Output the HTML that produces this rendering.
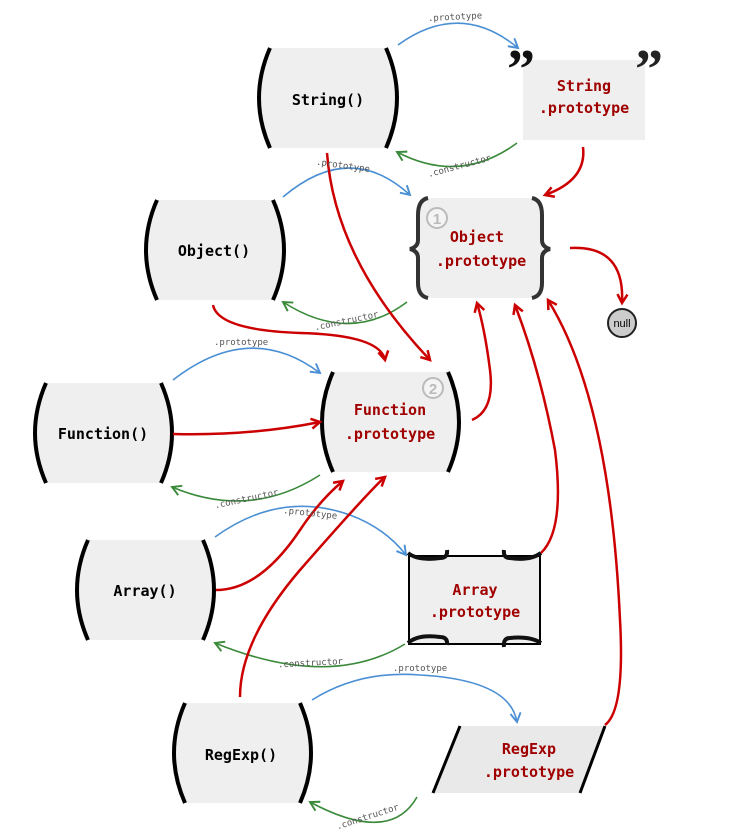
<!DOCTYPE html>
<html><head><meta charset="utf-8"><style>
html,body{margin:0;padding:0;background:#fff;}
svg{display:block;}
.ct{font-family:"DejaVu Sans Mono","Liberation Mono",monospace;font-weight:bold;font-size:15px;fill:#000;text-anchor:middle;}
.pt{font-family:"DejaVu Sans Mono","Liberation Mono",monospace;font-weight:bold;font-size:15px;fill:#a00000;text-anchor:middle;}
.lb{font-family:"DejaVu Sans Mono","Liberation Mono",monospace;font-size:9px;fill:#555;}
</style></head><body>
<svg width="730" height="840" viewBox="0 0 730 840" xmlns="http://www.w3.org/2000/svg">
<defs>
<marker id="ar" viewBox="0 0 10 10" refX="8" refY="5" markerWidth="5" markerHeight="5" orient="auto" markerUnits="strokeWidth"><path d="M1,1 L8,5 L1,9" fill="none" stroke="#cc0000" stroke-width="2"/></marker>
<marker id="ab" viewBox="0 0 10 10" refX="8" refY="5" markerWidth="8" markerHeight="8" orient="auto" markerUnits="strokeWidth"><path d="M1,1 L8,5 L1,9" fill="none" stroke="#4a8fd4" stroke-width="1.5"/></marker>
<marker id="ag" viewBox="0 0 10 10" refX="8" refY="5" markerWidth="8" markerHeight="8" orient="auto" markerUnits="strokeWidth"><path d="M1,1 L8,5 L1,9" fill="none" stroke="#3a8a3a" stroke-width="1.5"/></marker>
</defs>

<!-- paren nodes -->
<g id="nodes">
<g>
<path d="M270,48 L386,48 Q408,98 386,148 L270,148 Q248,98 270,48Z" fill="#efefef"/>
<path d="M270,48 Q248,98 270,148 M386,48 Q408,98 386,148" fill="none" stroke="#000" stroke-width="4"/>
<text class="ct" x="328" y="105">String()</text>
</g>
<g>
<path d="M157,200 L273,200 Q295,250 273,300 L157,300 Q135,250 157,200Z" fill="#efefef"/>
<path d="M157,200 Q135,250 157,300 M273,200 Q295,250 273,300" fill="none" stroke="#000" stroke-width="4"/>
<text class="ct" x="214" y="256">Object()</text>
</g>
<g>
<path d="M46,383 L161,383 Q183,433 161,483 L46,483 Q24,433 46,383Z" fill="#efefef"/>
<path d="M46,383 Q24,433 46,483 M161,383 Q183,433 161,483" fill="none" stroke="#000" stroke-width="4"/>
<text class="ct" x="103" y="439">Function()</text>
</g>
<g>
<path d="M88,540 L203,540 Q225,590 203,640 L88,640 Q66,590 88,540Z" fill="#efefef"/>
<path d="M88,540 Q66,590 88,640 M203,540 Q225,590 203,640" fill="none" stroke="#000" stroke-width="4"/>
<text class="ct" x="145" y="596">Array()</text>
</g>
<g>
<path d="M185,703 L300,703 Q322,753 300,803 L185,803 Q163,753 185,703Z" fill="#efefef"/>
<path d="M185,703 Q163,753 185,803 M300,703 Q322,753 300,803" fill="none" stroke="#000" stroke-width="4"/>
<text class="ct" x="241" y="760">RegExp()</text>
</g>
<g>
<path d="M333,372 L448,372 Q470,422 448,472 L333,472 Q311,422 333,372Z" fill="#efefef"/>
<path d="M333,372 Q311,422 333,472 M448,372 Q470,422 448,472" fill="none" stroke="#000" stroke-width="4"/>
<text class="pt" x="390" y="415">Function</text>
<text class="pt" x="390" y="439">.prototype</text>
<circle cx="433" cy="388" r="10" fill="#f4f4f4" stroke="#bbb" stroke-width="2"/>
<text x="433" y="394" font-family="Liberation Sans,sans-serif" font-size="15" font-weight="bold" fill="#bbb" text-anchor="middle">2</text>
</g>
</g>

<!-- Object.prototype braces -->
<rect x="418" y="198" width="124" height="100" rx="12" fill="#efefef"/>
<path d="M428,198 Q418,200 418,215 L418,240 Q418,247 410,249 Q418,251 418,258 L418,283 Q418,296 428,298" fill="none" stroke="#333" stroke-width="4"/>
<path d="M532,198 Q542,200 542,215 L542,240 Q542,247 550,249 Q542,251 542,258 L542,283 Q542,296 532,298" fill="none" stroke="#333" stroke-width="4"/>
<circle cx="437" cy="218" r="10" fill="#f4f4f4" stroke="#bbb" stroke-width="2"/>
<text x="437" y="224" font-family="Liberation Sans,sans-serif" font-size="15" font-weight="bold" fill="#bbb" text-anchor="middle">1</text>
<text class="pt" x="477" y="242">Object</text>
<text class="pt" x="481" y="266">.prototype</text>

<!-- String.prototype -->
<rect x="523" y="60" width="122" height="80" fill="#efefef"/>
<text x="521" y="88" font-family="Liberation Serif,serif" font-size="56" font-weight="bold" fill="#111" text-anchor="middle">”</text>
<text x="649" y="88" font-family="Liberation Serif,serif" font-size="56" font-weight="bold" fill="#222" text-anchor="middle">”</text>
<text class="pt" x="584" y="91">String</text>
<text class="pt" x="584" y="113">.prototype</text>

<!-- Array.prototype -->
<rect x="409" y="556" width="131" height="88" fill="#efefef" stroke="#000" stroke-width="2"/>
<path d="M408,553 Q418,561 440,558 Q448,558 447,550 M447,645 Q448,637 440,637 Q418,634 408,643" fill="none" stroke="#111" stroke-width="4"/>
<path d="M541,553 Q530,561 510,558 Q503,558 504,550 M504,647 Q503,638 510,638 Q530,636 541,643" fill="none" stroke="#111" stroke-width="4"/>
<text class="pt" x="475" y="595">Array</text>
<text class="pt" x="475" y="617">.prototype</text>

<!-- RegExp.prototype -->
<path d="M460,726 L605,726 L580,793 L433,793Z" fill="#e9e9e9"/>
<path d="M460,726 L433,793 M605,726 L580,793" stroke="#000" stroke-width="3"/>
<text class="pt" x="529" y="754">RegExp</text>
<text class="pt" x="529" y="777">.prototype</text>

<!-- null -->
<circle cx="622" cy="323" r="14" fill="#ccc" stroke="#222" stroke-width="2"/>
<text x="622" y="327" font-family="Liberation Sans,sans-serif" font-size="11" fill="#000" text-anchor="middle">null</text>

<!-- connectors -->
<g fill="none" stroke-width="1.6">
<path d="M398,45 Q460,0 518,48" stroke="#4a8fd4" marker-end="url(#ab)"/>
<path d="M283,197 Q350,140 410,195" stroke="#4a8fd4" marker-end="url(#ab)"/>
<path d="M173,380 Q250,320 320,373" stroke="#4a8fd4" marker-end="url(#ab)"/>
<path d="M215,537 Q280,490 350,515 Q385,528 406,555" stroke="#4a8fd4" marker-end="url(#ab)"/>
<path d="M312,700 Q360,670 420,675 Q510,680 517,722" stroke="#4a8fd4" marker-end="url(#ab)"/>
<path d="M517,143 Q460,185 397,152" stroke="#3a8a3a" marker-end="url(#ag)"/>
<path d="M407,302 Q350,345 283,302" stroke="#3a8a3a" marker-end="url(#ag)"/>
<path d="M320,475 Q250,520 172,487" stroke="#3a8a3a" marker-end="url(#ag)"/>
<path d="M405,644 Q330,690 215,643" stroke="#3a8a3a" marker-end="url(#ag)"/>
<path d="M417,797 Q390,845 310,802" stroke="#3a8a3a" marker-end="url(#ag)"/>
</g>
<g fill="none" stroke="#cc0000" stroke-width="2.5">
<path d="M583,147 Q587,180 545,195" marker-end="url(#ar)"/>
<path d="M327,153 Q335,260 430,360" marker-end="url(#ar)"/>
<path d="M213,305 Q218,330 300,333 Q380,335 385,360" marker-end="url(#ar)"/>
<path d="M570,248 Q625,245 622,303" marker-end="url(#ar)"/>
<path d="M173,434 Q250,436 320,422" marker-end="url(#ar)"/>
<path d="M472,420 Q495,410 490,370 Q485,330 477,303" marker-end="url(#ar)"/>
<path d="M541,553 Q565,530 555,450 Q540,370 515,305" marker-end="url(#ar)"/>
<path d="M605,725 Q625,710 620,620 Q610,400 548,300" marker-end="url(#ar)"/>
<path d="M216,590 Q260,590 300,530 Q320,500 343,481" marker-end="url(#ar)"/>
<path d="M240,697 Q240,640 300,570 Q370,490 385,477" marker-end="url(#ar)"/>
</g>

<!-- labels -->
<text class="lb" x="428" y="20" transform="rotate(-3 450 18)">.prototype</text>
<text class="lb" x="427" y="170" transform="rotate(-15 455 167)">.constructor</text>
<text class="lb" x="316" y="168" transform="rotate(8 340 165)">.prototype</text>
<text class="lb" x="314" y="325" transform="rotate(-12 340 322)">.constructor</text>
<text class="lb" x="214" y="345">.prototype</text>
<text class="lb" x="214" y="503" transform="rotate(-12 240 500)">.constructor</text>
<text class="lb" x="283" y="516" transform="rotate(6 310 514)">.prototype</text>
<text class="lb" x="278" y="666" transform="rotate(-3 305 664)">.constructor</text>
<text class="lb" x="393" y="671">.prototype</text>
<text class="lb" x="335" y="822" transform="rotate(-18 360 818)">.constructor</text>
</svg>
</body></html>
